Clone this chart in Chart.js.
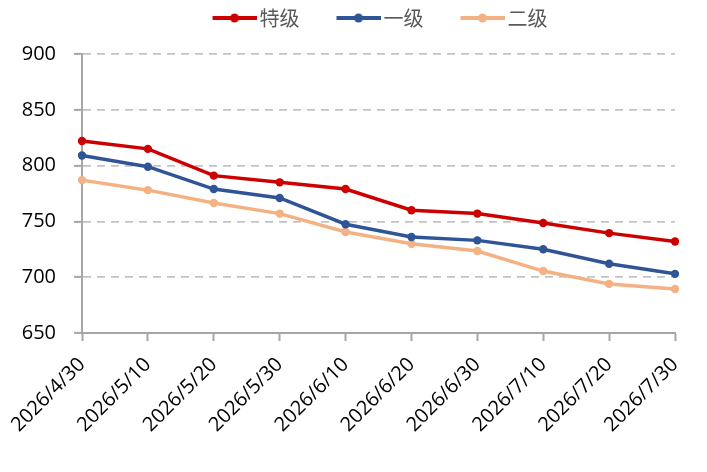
<!DOCTYPE html>
<html>
<head>
<meta charset="utf-8">
<script src="https://cdn.jsdelivr.net/npm/chart.js@4/dist/chart.umd.min.js"></script>
<style>
    html, body { margin: 0; padding: 0; background: #fff; }
    #wrap { width: 707px; height: 472px; }
</style>
</head>
<body>
<div id="wrap"><canvas id="priceCanvas"></canvas></div>
<script>
// Data
const dates = ['2026/4/30', '2026/5/10', '2026/5/20', '2026/5/30', '2026/6/10',
               '2026/6/20', '2026/6/30', '2026/7/10', '2026/7/20', '2026/7/30'];
const seriesNames = ['特级', '一级', '二级'];
const gradeSpecial = [822, 815, 791, 785, 779, 760, 757, 748.5, 739.5, 732];
const gradeOne = [809, 799, 779, 771, 747.5, 736, 733, 725, 712, 703];
const gradeTwo = [787, 778, 766.5, 757, 740.5, 730, 723.5, 705.5, 694, 689.5];
const yTicks = [650, 700, 750, 800, 850, 900];

const colors = ['#CC0000', '#2F5597', '#F4B183'];
const axisGray = '#A6A6A6';
const numFont = { family: '"Open Sans", "Liberation Sans", sans-serif', size: 20 };

// legend marker: a short line with a dot, drawn on the right part of the canvas
function legendIcon(color) {
    const c = document.createElement('canvas');
    c.width = 80;
    c.height = 12;
    const g = c.getContext('2d');
    g.strokeStyle = color;
    g.lineWidth = 4;
    g.beginPath();
    g.moveTo(36, 6);
    g.lineTo(80, 6);
    g.stroke();
    g.fillStyle = color;
    g.beginPath();
    g.arc(58, 6, 4.5, 0, Math.PI * 2);
    g.fill();
    return c;
}
const icons = colors.map(legendIcon);

function makeDataset(label, values, color) {
    return {
        label: label,
        data: values,
        borderColor: color,
        backgroundColor: color,
        borderWidth: 3.5,
        pointRadius: 4.2,
        pointBorderWidth: 0,
        pointBackgroundColor: color,
        tension: 0,
        fill: false
    };
}

// move the legend a bit right, as in the original
const shiftLegend = {
    id: 'shiftLegend',
    afterLayout(chart) {
        chart.legend.left += 23;
        chart.legend.right += 23;
    }
};

document.addEventListener('DOMContentLoaded', function() {
    const ctx = document.getElementById('priceCanvas').getContext('2d');

    new Chart(ctx, {
        type: 'line',
        data: {
            labels: dates,
            datasets: [
                makeDataset(seriesNames[0], gradeSpecial, colors[0]),
                makeDataset(seriesNames[1], gradeOne, colors[1]),
                makeDataset(seriesNames[2], gradeTwo, colors[2])
            ]
        },
        plugins: [shiftLegend],
        options: {
            responsive: true,
            maintainAspectRatio: false,
            animation: false,
            layout: {
                padding: { left: 10, right: 32, top: 0, bottom: 0 }
            },
            plugins: {
                legend: {
                    position: 'top',
                    labels: {
                        usePointStyle: true,
                        pointStyleWidth: 66,
                        padding: 8,
                        color: '#595959',
                        font: { family: '"Noto Sans CJK SC", sans-serif', size: 20 },
                        generateLabels: function(chart) {
                            const items = Chart.defaults.plugins.legend.labels.generateLabels(chart);
                            items.forEach((item, i) => { item.pointStyle = icons[i]; });
                            return items;
                        }
                    }
                },
                // empty spacer between legend and plot area
                title: {
                    display: true,
                    text: '',
                    weight: 500,
                    font: { size: 1, lineHeight: 1 },
                    padding: { top: 0, bottom: 15 }
                },
                tooltip: { enabled: false }
            },
            scales: {
                x: {
                    offset: false,
                    border: { display: true, color: axisGray, width: 2 },
                    grid: {
                        drawOnChartArea: false,
                        drawTicks: true,
                        tickLength: 8,
                        tickWidth: 2,
                        tickColor: axisGray,
                        color: axisGray
                    },
                    ticks: {
                        autoSkip: false,
                        minRotation: 45,
                        maxRotation: 45,
                        padding: 12,
                        color: '#000',
                        font: numFont
                    },
                    afterFit: function(scale) { scale.height = 139; }
                },
                y: {
                    min: yTicks[0],
                    max: yTicks[yTicks.length - 1],
                    border: { display: true, color: axisGray, width: 2, dash: [8, 6] },
                    grid: {
                        color: '#C3C3C3',
                        lineWidth: 1.75,
                        drawTicks: true,
                        tickLength: 8,
                        tickWidth: 2,
                        tickColor: axisGray
                    },
                    ticks: {
                        stepSize: 50,
                        padding: 18,
                        color: '#000',
                        font: numFont
                    },
                    afterBuildTicks: function(scale) {
                        scale.ticks = yTicks.map(v => ({ value: v }));
                    },
                    afterFit: function(scale) { scale.width = 72; }
                }
            }
        }
    });
});
</script>
</body>
</html>
